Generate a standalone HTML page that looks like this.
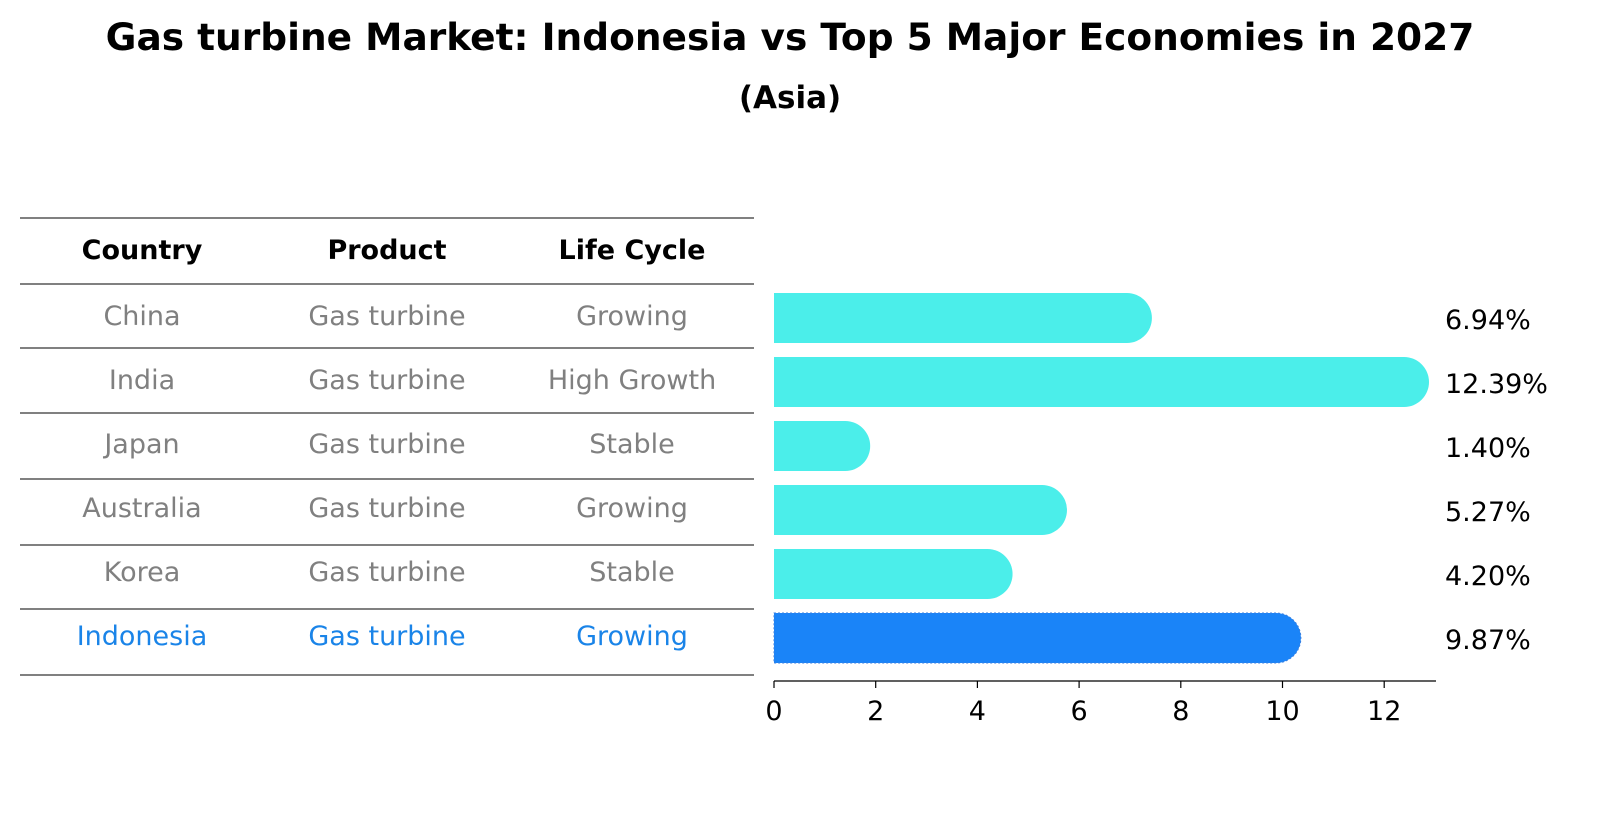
<!DOCTYPE html>
<html><head><meta charset="utf-8"><style>
body{margin:0;background:#fff;font-family:"Liberation Sans","DejaVu Sans",sans-serif;}
svg{display:block}
</style></head><body>
<svg width="1604" height="823" font-family="DejaVu Sans, Liberation Sans, sans-serif">
<text x="790" y="50" text-anchor="middle" font-size="37.5" font-weight="bold">Gas turbine Market: Indonesia vs Top 5 Major Economies in 2027</text>
<text x="790" y="108" text-anchor="middle" font-size="31" font-weight="bold">(Asia)</text>
<g id="table"></g>
<g id="bars"></g>
<g id="axis"></g>
</svg>
<script>
const countries=["China","India","Japan","Australia","Korea","Indonesia"];
const products=["Gas turbine","Gas turbine","Gas turbine","Gas turbine","Gas turbine","Gas turbine"];
const lifeCycles=["Growing","High Growth","Stable","Growing","Stable","Growing"];
const values=[6.94,12.39,1.40,5.27,4.20,9.87];
const ticks=[0,2,4,6,8,10,12];
const NS="http://www.w3.org/2000/svg";
function mk(tag,attrs,parent){const e=document.createElementNS(NS,tag);for(const k in attrs)e.setAttribute(k,attrs[k]);parent.appendChild(e);return e;}
const x0=774,pxPerUnit=50.85;
const xs=v=>x0+v*pxPerUnit;
const rowY=i=>318+i*64;
const table=document.getElementById('table');
const lines=[218,284,348,413,479,545,609,675];
lines.forEach(y=>{const l=mk('line',{x1:20,x2:754,y1:y,y2:y,stroke:'#000','stroke-width':1},table);

});
const cols=[142,387,632];
["Country","Product","Life Cycle"].forEach((h,j)=>{const t=mk('text',{x:cols[j],y:259,'text-anchor':'middle','font-size':27,'font-weight':'bold'},table);t.textContent=h;

});
countries.forEach((c,i)=>{const col=i===5?'#1a84e8':'#808080';
[c,products[i],lifeCycles[i]].forEach((v,j)=>{const t=mk('text',{x:cols[j],y:rowY(i)+7,'text-anchor':'middle','font-size':27,fill:col},table);t.textContent=v;

});});
const bars=document.getElementById('bars');
const h=50,r=25;
values.forEach((v,i)=>{const y=rowY(i)-h/2;const xe=xs(v);const col=i===5?'#1a84f8':'#4beeea';
const p=mk('path',{d:`M${x0},${y} H${xe} A${r},${r} 0 0 1 ${xe},${y+h} H${x0} Z`,fill:col},bars);


if(i===5){p.setAttribute('stroke','#3a7fe0');p.setAttribute('stroke-dasharray','2,2');}
const t=mk('text',{x:1445,y:rowY(i)+11,'font-size':27},bars);t.textContent=v.toFixed(2)+'%';

});
const axis=document.getElementById('axis');
const al=mk('line',{x1:x0,x2:1436,y1:681,y2:681,stroke:'#000','stroke-width':1.2},axis);


ticks.forEach(tv=>{const x=xs(tv);
const tl=mk('line',{x1:x,x2:x,y1:681,y2:688,stroke:'#000','stroke-width':1.2},axis);


const t=mk('text',{x:x,y:720,'text-anchor':'middle','font-size':27},axis);t.textContent=tv;

});
</script>
</body></html>
